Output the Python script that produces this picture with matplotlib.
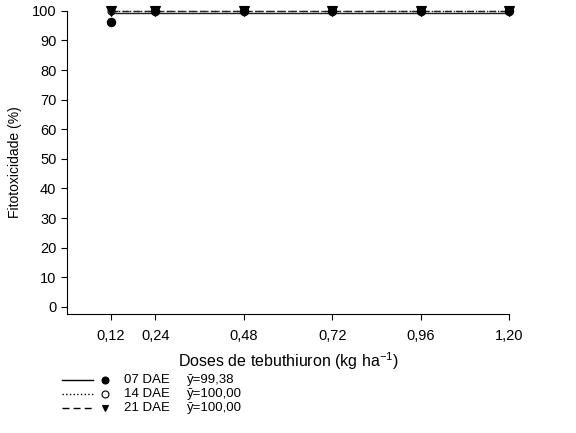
import matplotlib as mpl
import matplotlib.pyplot as plt
from matplotlib.lines import Line2D

mpl.rcParams['font.family'] = ['Liberation Sans', 'DejaVu Sans']

# data
doses = [0.12, 0.24, 0.48, 0.72, 0.96, 1.20]
dae07 = [96.3, 100, 100, 100, 100, 100]
dae14 = [100, 100, 100, 100, 100, 100]
dae21 = [100, 100, 100, 100, 100, 100]
means = [99.38, 100.00, 100.00]
series_names = ['07 DAE', '14 DAE', '21 DAE']
mean_labels = ['ȳ=99,38', 'ȳ=100,00', 'ȳ=100,00']
xtick_labels = ['0,12', '0,24', '0,48', '0,72', '0,96', '1,20']

fig = plt.figure(figsize=(5.76, 4.33), dpi=100)
ax = fig.add_axes([0.116, 0.275, 0.768, 0.700])

styles = [('-', 'o', 'black'), (':', 'o', 'white'), ((0, (5, 3)), 'v', 'black')]
sizes = [6, 5, 7]
zorders = [4, 3, 5]
for vals, m, (ls, mk, fc), s, z in zip([dae07, dae14, dae21], means, styles, sizes, zorders):
    ax.plot([0.12, 1.20], [m, m], color='#222222', lw=1.0, ls=ls, clip_on=False)
    ax.plot(doses, vals, ls='none', marker=mk, ms=s, mfc=fc, mec='black',
            mew=0.8, clip_on=False, zorder=z)

ax.set_xlim(0, 1.20)
ax.set_ylim(-2.4, 100)
ax.set_xticks(doses)
ax.set_xticklabels(xtick_labels)
ax.set_yticks(range(0, 101, 10))
ax.spines['top'].set_visible(False)
ax.spines['right'].set_visible(False)
ax.tick_params(direction='out', length=4, width=0.8, labelsize=10.5)
ax.tick_params(axis='x', pad=7)
ax.set_xlabel('Doses de tebuthiuron (kg ha$^{\\mathregular{-1}}$)', fontsize=11.5, labelpad=5)
ax.set_ylabel('Fitotoxicidade (%)', fontsize=10, labelpad=7)

# legend drawn below the axes
rows_y = [1 - 380 / 433, 1 - 394 / 433, 1 - 408 / 433]
for yy, (ls, mk, fc), name, lab in zip(rows_y, styles, series_names, mean_labels):
    fig.add_artist(Line2D([62 / 576, 93 / 576], [yy, yy], color='black', lw=1.0, ls=ls,
                          transform=fig.transFigure))
    fig.add_artist(Line2D([105 / 576], [yy], marker=mk, ms=5, mfc=fc, mec='black',
                          mew=0.8, ls='none', transform=fig.transFigure))
    fig.text(124 / 576, yy, name, fontsize=9.5, va='center')
    fig.text(187 / 576, yy, lab, fontsize=9.5, va='center')

plt.savefig('out.png', dpi=100)
